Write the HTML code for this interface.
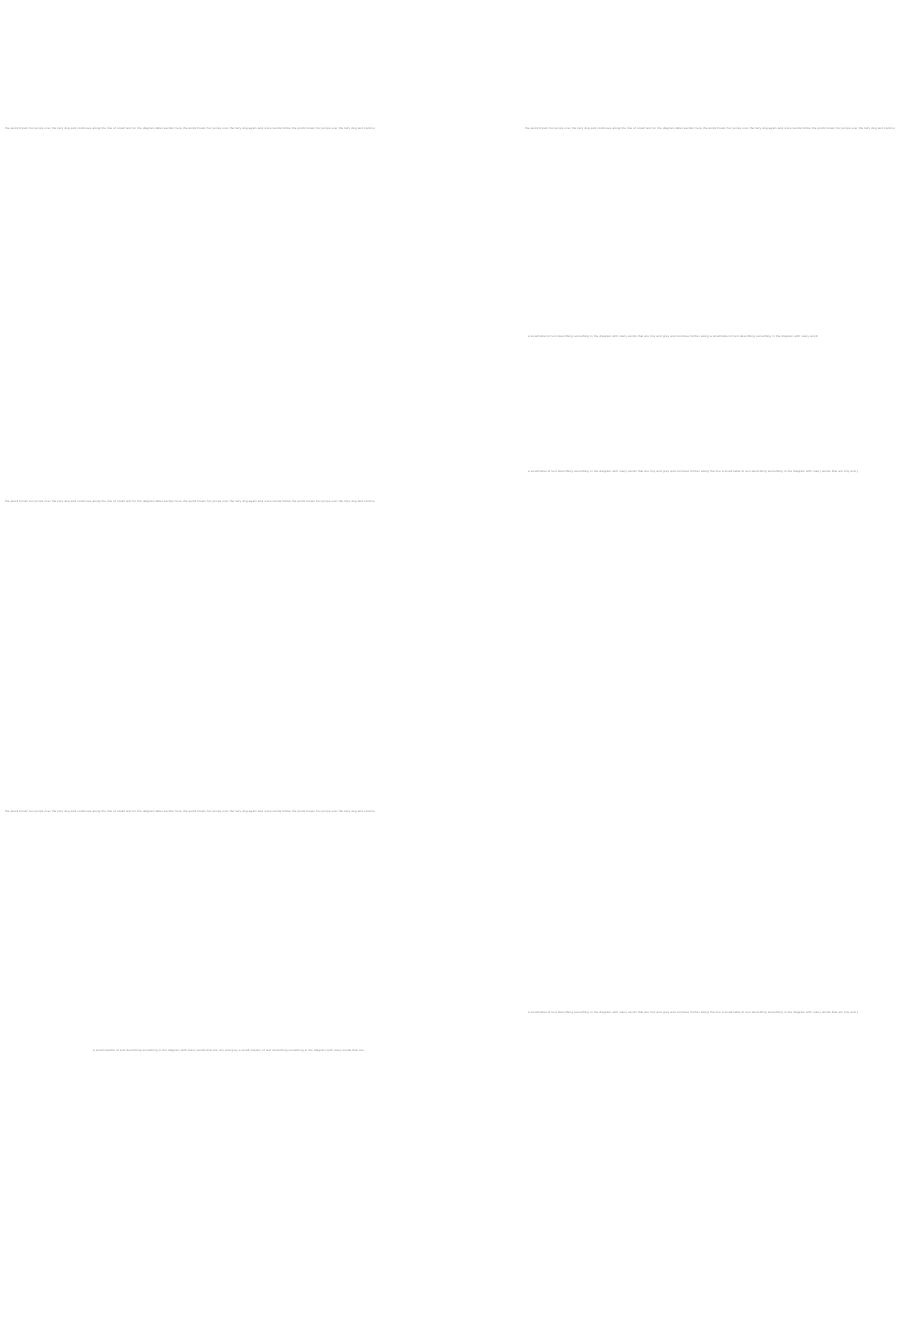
<!DOCTYPE html>
<html><head><meta charset="utf-8"><style>
html,body{margin:0;padding:0;background:#fff;width:900px;height:1330px;overflow:hidden;position:relative;font-family:"Liberation Sans",sans-serif}
.l{position:absolute;height:4px;overflow:hidden;white-space:nowrap;font-size:3px;line-height:4px;color:#888;letter-spacing:0.15px}
</style></head><body>
<div class="l" style="left:5px;top:126px;width:370px">the quick brown fox jumps over the lazy dog and continues along the line of small text for the diagram label section here the quick brown fox jumps over the lazy dog again and more words follow the quick brown fox jumps over the lazy dog and continues along the line of small text for the diagram label section here the quick brown fox jumps over</div>
<div class="l" style="left:525px;top:126px;width:370px">the quick brown fox jumps over the lazy dog and continues along the line of small text for the diagram label section here the quick brown fox jumps over the lazy dog again and more words follow the quick brown fox jumps over the lazy dog and continues along the line of small text for the diagram label section here the quick brown fox jumps over</div>
<div class="l" style="left:528px;top:334px;width:290px">a small label of text describing something in the diagram with many words that are tiny and grey and continue further along a small label of text describing something in the diagram with many words that are tiny and grey and continue further along</div>
<div class="l" style="left:528px;top:469px;width:330px">a small label of text describing something in the diagram with many words that are tiny and grey and continue further along the line a small label of text describing something in the diagram with many words that are tiny and grey and continue further along the line</div>
<div class="l" style="left:5px;top:499px;width:370px">the quick brown fox jumps over the lazy dog and continues along the line of small text for the diagram label section here the quick brown fox jumps over the lazy dog again and more words follow the quick brown fox jumps over the lazy dog and continues along the line of small text for the diagram label section here the quick brown fox jumps over</div>
<div class="l" style="left:5px;top:809px;width:370px">the quick brown fox jumps over the lazy dog and continues along the line of small text for the diagram label section here the quick brown fox jumps over the lazy dog again and more words follow the quick brown fox jumps over the lazy dog and continues along the line of small text for the diagram label section here the quick brown fox jumps over</div>
<div class="l" style="left:528px;top:1010px;width:330px">a small label of text describing something in the diagram with many words that are tiny and grey and continue further along the line a small label of text describing something in the diagram with many words that are tiny and grey and continue further along the line</div>
<div class="l" style="left:93px;top:1048px;width:272px">a small caption of text describing something in the diagram with many words that are tiny and grey a small caption of text describing something in the diagram with many words that are tiny and grey</div>
</body></html>
